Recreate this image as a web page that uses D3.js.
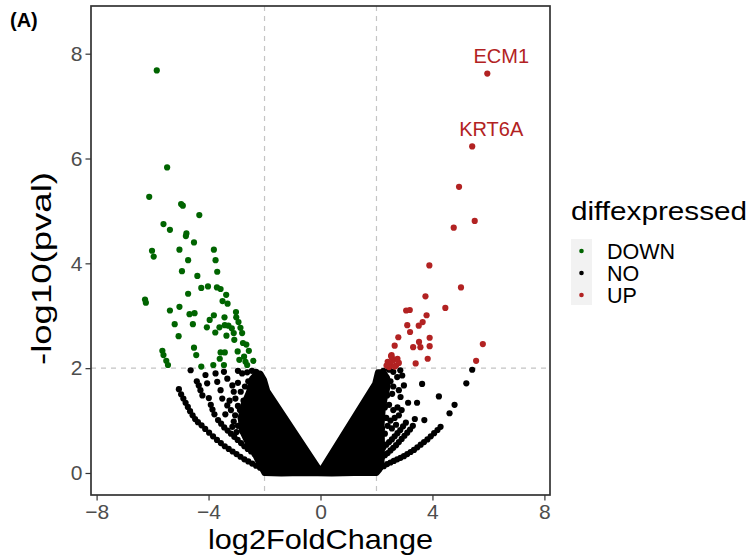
<!DOCTYPE html>
<html>
<head>
<meta charset="utf-8">
<script src="https://cdn.jsdelivr.net/npm/d3@7"></script>
<style>
body { margin: 0; background: #fff; }
svg { display: block; font-family: "Liberation Sans", Arial, Helvetica, sans-serif; }
.tick text { fill: #4d4d4d; font-size: 21px; }
.tick line { stroke: #333; }
.domain { display: none; }
</style>
</head>
<body>
<svg width="751" height="558"></svg>
<script>
// volcano plot, values

// DOWN genes [log2FoldChange, -log10(pval)]
const downPoints = [
  [-5.85,7.68],[-5.48,5.83],[-6.12,5.27],[-4.98,5.13],[-4.92,5.10],[-4.33,4.92],[-5.61,4.75],[-5.38,4.64],
  [-4.79,4.57],[-4.81,4.52],[-4.52,4.40],[-6.02,4.24],[-5.96,4.13],[-5.04,4.26],[-3.81,4.26],[-4.73,4.06],
  [-3.75,4.06],[-4.95,3.85],[-3.69,3.84],[-4.40,3.76],[-4.26,3.53],[-4.02,3.56],[-3.70,3.54],[-3.57,3.51],
  [-3.37,3.40],[-4.73,3.42],[-6.27,3.31],[-6.24,3.25],[-3.50,3.28],[-3.32,3.23],[-5.04,3.17],[-5.38,3.10],
  [-4.68,3.03],[-4.50,3.05],[-3.81,3.01],[-3.02,3.07],[-3.43,2.97],[-3.01,2.97],[-3.96,2.92],[-5.21,2.84],
  [-4.56,2.84],[-2.93,2.88],[-3.42,2.82],[-3.29,2.81],[-4.06,2.78],[-3.61,2.78],[-3.17,2.76],[-2.86,2.77],
  [-3.76,2.68],[-3.36,2.62],[-3.10,2.67],[-2.80,2.67],[-5.07,2.61],[-3.08,2.54],[-2.77,2.48],[-2.65,2.45],
  [-4.52,2.39],[-5.65,2.33],[-5.61,2.25],[-4.44,2.25],[-3.57,2.30],[-3.42,2.30],[-2.96,2.32],[-2.56,2.33],
  [-2.73,2.22],[-3.60,2.18],[-2.90,2.16],[-5.51,2.14],[-5.45,2.06],[-3.83,2.06],[-4.26,2.03],[-2.68,2.12],
  [-2.40,2.14],[-2.62,2.06],[-3.45,2.06]
]

// UP genes, the first two carry the gene labels
const upPoints = [
  [5.96,7.62],[5.42,6.23],[4.95,5.46],[5.51,4.81],[4.76,4.68],[3.89,3.96],[5.02,3.54],[3.75,3.37],
  [3.06,3.10],[3.19,3.11],[4.46,3.15],[3.79,3.01],[3.10,2.82],[3.51,2.81],[3.65,2.88],[3.20,2.69],
  [2.78,2.59],[3.90,2.58],[3.52,2.50],[2.65,2.43],[3.31,2.40],[3.57,2.40],[3.90,2.42],[5.80,2.46],
  [2.54,2.25],[3.83,2.18],[5.56,2.14],[3.40,2.09],[2.40,2.12],[2.50,2.08],[2.60,2.15],[2.70,2.05],
  [2.45,2.02],[2.80,2.10],[2.55,2.20],[2.65,2.03],[2.36,2.05],[2.75,2.18],[2.52,2.23]
]
const labelNames = ["ECM1", "KRT6A"]

// NO genes that can be told apart
const noPoints = [
  // outer left arcs
  [-5.06,1.60],[-4.98,1.50],[-4.90,1.42],[-4.82,1.34],[-4.74,1.26],[-4.66,1.18],[-4.57,1.10],[-4.48,1.03],
  [-4.38,0.97],[-4.25,0.91],[-4.12,0.84],[-3.98,0.77],[-3.84,0.70],[-3.70,0.63],[-3.56,0.57],[-3.42,0.51],
  [-3.28,0.46],[-3.14,0.41],[-3.00,0.36],[-2.86,0.31],[-2.72,0.26],[-2.58,0.22],[-2.44,0.18],[-2.30,0.14],
  [-2.16,0.10],[-2.04,0.06],
  [-4.29,1.58],[-4.22,1.48],[-3.92,1.30],[-3.86,1.21],[-3.79,1.12],[-3.66,1.01],[-3.55,0.94],[-3.44,0.87],
  [-3.32,0.81],[-3.20,0.75],[-3.08,0.69],[-2.96,0.63],[-2.84,0.57],[-2.72,0.51],[-2.60,0.46],[-2.48,0.41],
  [-2.36,0.36],[-2.24,0.31],[-2.12,0.27],
  // scattered left
  [-4.64,1.96],[-4.42,1.75],[-4.35,1.67],[-4.11,1.87],[-4.05,1.71],[-3.99,1.43],[-3.75,1.90],[-3.69,1.74],
  [-3.57,1.58],[-3.51,1.42],[-3.33,1.29],[-3.45,1.93],[-3.33,1.80],[-3.15,1.67],[-3.10,1.55],[-3.04,1.42],
  [-2.95,1.95],[-2.80,1.90],[-2.62,1.92],[-2.45,1.95],[-2.30,1.93],[-3.20,1.20],[-3.05,1.10],[-2.95,1.28],
  [-3.10,0.98],[-2.95,0.90],[-2.85,1.05],[-2.80,0.80],[-2.70,0.95],[-2.75,1.38],[-2.85,1.55],[-2.70,1.65],
  [-2.95,1.72],[-3.25,1.38],[-2.65,0.70],[-3.40,1.12],[-3.00,0.78],[-2.58,1.75],[-2.88,1.20],[-3.15,0.88],
  // outer right arcs
  [4.29,0.88],[4.18,0.82],[4.06,0.76],[3.94,0.70],[3.82,0.64],[3.70,0.59],[3.58,0.54],[3.46,0.49],
  [3.34,0.44],[3.22,0.40],[3.10,0.36],[2.98,0.32],[2.86,0.29],[2.74,0.26],[2.62,0.23],[2.50,0.20],
  [2.38,0.17],[2.26,0.13],[2.14,0.10],[2.04,0.06],
  [3.30,0.90],[3.20,0.83],[3.10,0.77],[3.00,0.71],[2.90,0.65],[2.80,0.59],[2.70,0.53],[2.60,0.48],
  [2.50,0.43],[2.40,0.38],[2.30,0.34],[2.20,0.30],
  [3.05,0.96],[2.95,0.89],[2.85,0.82],[2.75,0.76],[2.65,0.70],[2.55,0.64],[2.45,0.59],[2.35,0.54],[2.25,0.49],
  // scattered right
  [5.42,1.97],[5.21,1.71],[4.79,1.30],[4.61,1.14],[4.23,1.46],[3.71,1.01],[3.37,1.03],[3.63,1.70],
  [3.45,1.34],[3.13,1.34],[2.86,1.45],[2.14,1.77],[2.32,1.80],[2.74,1.83],[2.92,1.86],[2.98,1.67],
  [2.80,1.58],[2.56,1.51],[2.38,1.48],[2.20,1.61],[2.25,1.95],[2.45,1.97],[2.60,1.93],[2.85,1.96],
  [2.15,1.35],[2.30,1.25],[2.45,1.30],[2.60,1.20],[2.75,1.25],[2.20,1.10],[2.35,1.05],[2.50,1.00],
  [2.65,1.05],[2.80,1.10],[2.90,1.20],[2.20,0.85],[2.30,0.75],[2.40,0.90],[2.55,0.85],[2.70,0.92],
  [2.60,1.65],[2.50,1.75]
]

// outline (point centres) of the saturated NO core where single points merge
const noCore = [
  [0,0.03],[-1.90,1.56],[-2.02,1.78],[-2.15,1.90],[-2.28,1.90],[-2.45,1.80],[-2.55,1.55],[-2.75,1.30],
  [-2.85,1.05],[-2.80,0.80],[-2.60,0.58],[-2.40,0.42],[-2.22,0.22],[-2.08,0.08],[-2.00,0.00],[-1.40,-0.01],
  [-0.60,0.00],[0.40,-0.01],[1.20,0.00],[2.00,0.00],[2.10,0.06],[2.18,0.22],[2.20,0.50],[2.18,0.90],
  [2.22,1.20],[2.30,1.45],[2.40,1.65],[2.38,1.82],[2.25,1.92],[2.05,1.92],[1.95,1.70]
]

const xTicks = [-8, -4, 0, 4, 8]
const yTicks = [0, 2, 4, 6, 8]
const cutX = [-2, 2]
const cutY = [2]
const groups = ["DOWN", "NO", "UP"]
const groupColors = ["#006400", "#000000", "#b22222"]

const svg = d3.select("svg")

//panel
const pLeft = 91, pRight = 550, pTop = 6, pBottom = 495

const xScale = d3.scaleLinear()
	.domain([-8.2, 8.2])
	.range([pLeft, pRight])

const yScale = d3.scaleLinear()
	.domain([-0.42, 8.91])
	.range([pBottom, pTop])

const colorScale = d3.scaleOrdinal()
	.domain(groups)
	.range(groupColors)

//dashed cut-off lines
svg.selectAll("line.cutx")
	.data(cutX)
	.enter()
	.append("line")
	.attr("x1", d => xScale(d))
	.attr("x2", d => xScale(d))
	.attr("y1", pTop)
	.attr("y2", pBottom)
	.attr("stroke", "#c4c4c4")
	.attr("stroke-width", 1.2)
	.attr("stroke-dasharray", "5,5")

svg.selectAll("line.cuty")
	.data(cutY)
	.enter()
	.append("line")
	.attr("x1", pLeft)
	.attr("x2", pRight)
	.attr("y1", d => yScale(d))
	.attr("y2", d => yScale(d))
	.attr("stroke", "#c4c4c4")
	.attr("stroke-width", 1.2)
	.attr("stroke-dasharray", "5,5")

//dense core of NO points
svg.append("path")
	.datum(noCore)
	.attr("d", d3.line().x(d => xScale(d[0])).y(d => yScale(d[1])).curve(d3.curveLinearClosed))
	.attr("fill", "#000")
	.attr("stroke", "#000")
	.attr("stroke-width", 6)
	.attr("stroke-linejoin", "round")

const r = 3.1

svg.selectAll("circle.no")
	.data(noPoints)
	.enter()
	.append("circle")
	.attr("class", "no")
	.attr("cx", d => xScale(d[0]))
	.attr("cy", d => yScale(d[1]))
	.attr("r", r)
	.attr("fill", colorScale("NO"))

svg.selectAll("circle.down")
	.data(downPoints)
	.enter()
	.append("circle")
	.attr("class", "down")
	.attr("cx", d => xScale(d[0]))
	.attr("cy", d => yScale(d[1]))
	.attr("r", r)
	.attr("fill", colorScale("DOWN"))

svg.selectAll("circle.up")
	.data(upPoints)
	.enter()
	.append("circle")
	.attr("class", "up")
	.attr("cx", d => xScale(d[0]))
	.attr("cy", d => yScale(d[1]))
	.attr("r", r)
	.attr("fill", colorScale("UP"))

//gene labels
const labelOffset = [[14, -11], [19, -10]]
svg.selectAll("text.gene")
	.data(labelNames)
	.enter()
	.append("text")
	.attr("class", "gene")
	.attr("x", (d,i) => xScale(upPoints[i][0]) + labelOffset[i][0])
	.attr("y", (d,i) => yScale(upPoints[i][1]) + labelOffset[i][1])
	.attr("text-anchor", "middle")
	.attr("fill", colorScale("UP"))
	.style("font-size", "20px")
	.text(d => d)

//panel border
svg.append("rect")
	.attr("x", pLeft)
	.attr("y", pTop)
	.attr("width", pRight - pLeft)
	.attr("height", pBottom - pTop)
	.attr("fill", "none")
	.attr("stroke", "#333")
	.attr("stroke-width", 1.7)

//axes
svg.append("g")
	.attr("transform", `translate(0,${pBottom})`)
	.call(d3.axisBottom(xScale).tickValues(xTicks).tickSize(5.5).tickPadding(4).tickFormat(d3.format("d")))

svg.append("g")
	.attr("transform", `translate(${pLeft},0)`)
	.call(d3.axisLeft(yScale).tickValues(yTicks).tickSize(5.5).tickPadding(3).tickFormat(d3.format("d")))

svg.selectAll(".tick text").style("font-family", "Liberation Sans, Arial, sans-serif")
svg.selectAll(".tick line").attr("stroke-width", 1.2)

//axis titles
svg.append("text")
	.attr("x", (pLeft + pRight) / 2)
	.attr("y", 549)
	.attr("text-anchor", "middle")
	.attr("textLength", 225)
	.attr("lengthAdjust", "spacingAndGlyphs")
	.style("font-size", "28px")
	.text("log2FoldChange")

svg.append("text")
	.attr("transform", `translate(51,${(pTop + pBottom) / 2 + 18}) rotate(-90)`)
	.attr("text-anchor", "middle")
	.attr("textLength", 193)
	.attr("lengthAdjust", "spacingAndGlyphs")
	.style("font-size", "28px")
	.text("-log10(pval)")

//panel tag
svg.append("text")
	.attr("x", 10)
	.attr("y", 27)
	.style("font-size", "20px")
	.style("font-weight", "bold")
	.text("(A)")

//legend
svg.append("text")
	.attr("x", 571)
	.attr("y", 220)
	.attr("textLength", 176)
	.attr("lengthAdjust", "spacingAndGlyphs")
	.style("font-size", "25px")
	.text("diffexpressed")

svg.append("rect")
	.attr("x", 571)
	.attr("y", 239)
	.attr("width", 21)
	.attr("height", 66)
	.attr("fill", "#f2f2f2")

const legendRows = svg.selectAll("g.key")
	.data(groups)
	.enter()
	.append("g")
	.attr("class", "key")
	.attr("transform", (d,i) => `translate(0,${251 + i * 22})`)

legendRows.append("circle")
	.attr("cx", 581.5)
	.attr("cy", 0)
	.attr("r", 2.3)
	.attr("fill", d => colorScale(d))

legendRows.append("text")
	.attr("x", 607)
	.attr("y", 7.8)
	.style("font-size", "21.5px")
	.text(d => d)
</script>
</body>
</html>
